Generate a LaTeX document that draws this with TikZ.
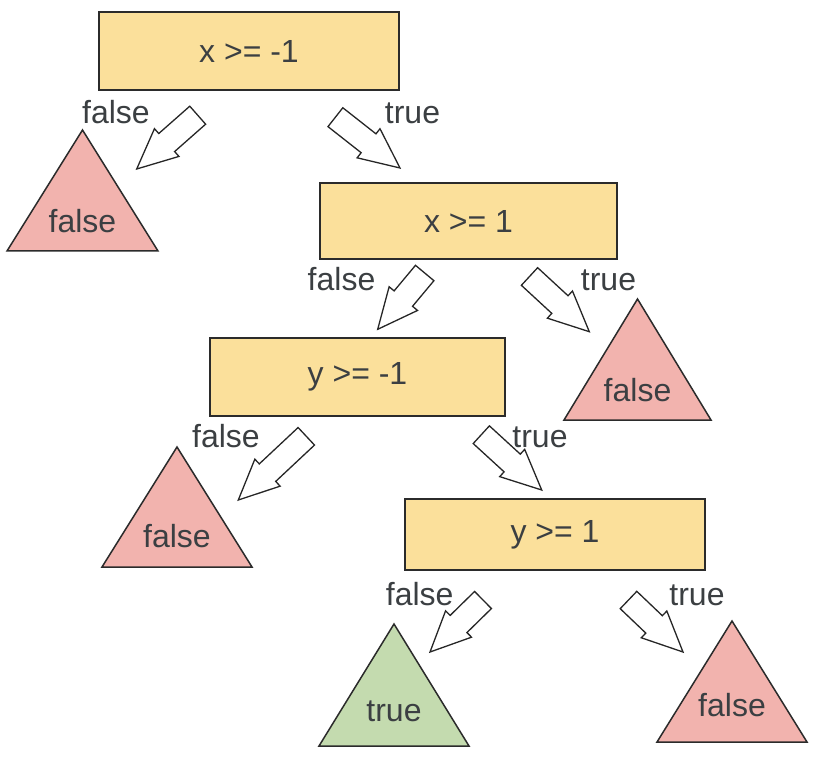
\documentclass[tikz,border=0pt]{standalone}
\usepackage{fontspec}
\setmainfont{Liberation Sans}
\usetikzlibrary{calc}
\definecolor{boxfill}{HTML}{FBE09B}
\definecolor{redfill}{HTML}{F2B3AE}
\definecolor{greenfill}{HTML}{C4DBAF}
\definecolor{txt}{HTML}{3B3F42}
\definecolor{edge}{HTML}{2B2B2B}
\newcommand\blockarrow[3]{%
  \coordinate (#1t) at #2;
  \coordinate (#1p) at #3;
  \coordinate (#1h) at ($(#1p)!40pt!(#1t)$);
  \draw[blockarr] ($(#1t)!12pt!90:(#1p)$) -- ($(#1h)!12pt!90:(#1p)$) -- ($(#1h)!18.5pt!90:(#1p)$) -- (#1p)
     -- ($(#1h)!18.5pt!-90:(#1p)$) -- ($(#1h)!12pt!-90:(#1p)$) -- ($(#1t)!12pt!-90:(#1p)$) -- cycle;
}
\newcommand\leaf[8]{% name, apex x, apex y, base y, half width, label, text baseline, fill
  \draw[leafline, fill=#8] (#2,#3) coordinate (#1a) -- (#2+#5,#4) coordinate (#1r) -- (#2-#5,#4) coordinate (#1l) -- cycle;
  \node[lbl, anchor=base] (#1) at (#2,#7) {#6};
}
\begin{document}
\begin{tikzpicture}[x=1pt,y=-1pt,
  lbl/.style={text=txt, font=\fontsize{32}{38}\selectfont, inner sep=0pt},
  decision/.style={lbl, draw=edge, line width=1.6pt, fill=boxfill, minimum width=300pt, minimum height=78pt},
  leafline/.style={draw=edge, line width=1.5pt, line join=miter},
  blockarr/.style={draw=black!85, line width=1.3pt, fill=white, line join=miter}]
\useasboundingbox (0,0) rectangle (816,759);

% decision boxes
\node[decision] (b1) at (249,51) {x >= -1};
\node[decision, minimum width=297pt, minimum height=76pt] (b2) at (468.5,221) {x >= 1};
\node[decision, minimum width=295pt] (b3) at (357.5,377) {y >= -1};
\node[decision, minimum height=71pt] (b4) at (555,534.5) {y >= 1};

% leaves
\leaf{t1}{82.5}{130}{251}{75.5}{false}{232.3}{redfill}
\leaf{t2}{637.5}{299}{420}{73.5}{false}{401}{redfill}
\leaf{t3}{177}{447}{567}{75}{false}{547.7}{redfill}
\leaf{t4}{394}{624}{746}{75}{true}{721.7}{greenfill}
\leaf{t5}{732}{621}{742}{75}{false}{716.7}{redfill}

% block arrows
\blockarrow{a1}{(197.7,115.2)}{(136.7,169)}
\blockarrow{a2}{(335.4,117.2)}{(400,168)}
\blockarrow{a3}{(424.7,273)}{(377.7,329.3)}
\blockarrow{a4}{(529.5,276.5)}{(589.3,331.7)}
\blockarrow{a5}{(306.3,436.3)}{(238.3,500)}
\blockarrow{a6}{(481.3,434.7)}{(541.7,490)}
\blockarrow{a7}{(483,600)}{(430,652)}
\blockarrow{a8}{(628.5,600)}{(683,652)}

% branch labels
\node[lbl, anchor=base] (l1f) at (116,123.3) {false};
\node[lbl, anchor=base] (l1t) at (412.5,123.3) {true};
\node[lbl, anchor=base] (l2f) at (341.5,290.7) {false};
\node[lbl, anchor=base] (l2t) at (608.5,290.7) {true};
\node[lbl, anchor=base] (l3f) at (226,447.7) {false};
\node[lbl, anchor=base] (l3t) at (540,447.7) {true};
\node[lbl, anchor=base] (l4f) at (419.7,605) {false};
\node[lbl, anchor=base] (l4t) at (697,605) {true};
\end{tikzpicture}
\end{document}
